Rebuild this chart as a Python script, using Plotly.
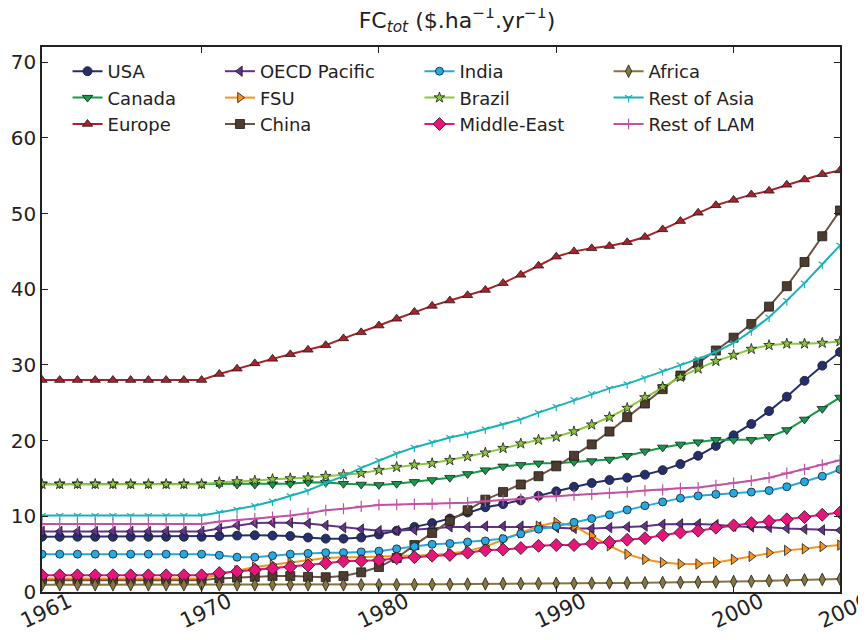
import plotly.graph_objects as go

years = list(range(1961, 2007))

usa = [7.3, 7.3, 7.3, 7.3, 7.3, 7.3, 7.3, 7.3, 7.3, 7.3,
       7.4, 7.45, 7.5, 7.45, 7.4, 7.2, 7.05, 7.05, 7.2, 7.6,
       8.1, 8.6, 9.1, 9.7, 10.5, 11.2, 11.6, 12.1, 12.7, 13.3,
       13.9, 14.4, 14.8, 15.1, 15.5, 16.1, 16.9, 18.0, 19.3, 20.7,
       22.2, 23.9, 25.8, 27.9, 29.9, 31.7]
canada = [14.25, 14.25, 14.25, 14.25, 14.25, 14.25, 14.25, 14.25, 14.25, 14.25,
          14.25, 14.2, 14.2, 14.25, 14.3, 14.5, 14.45, 14.3, 14.2, 14.15,
          14.3, 14.55, 14.8, 15.1, 15.6, 16.1, 16.6, 16.8, 17.0, 17.0,
          17.2, 17.3, 17.5, 18.0, 18.6, 19.1, 19.5, 19.8, 20.1, 20.1,
          20.1, 20.5, 21.4, 22.8, 24.2, 25.7]
europe = [28.0, 28.0, 28.0, 28.0, 28.0, 28.0, 28.0, 28.0, 28.0, 28.0,
          28.8, 29.5, 30.2, 30.8, 31.4, 32.0, 32.6, 33.5, 34.3, 35.2,
          36.1, 37.0, 37.8, 38.5, 39.2, 39.9, 40.8, 41.9, 43.1, 44.3,
          45.0, 45.4, 45.7, 46.2, 46.9, 47.9, 49.0, 50.1, 51.1, 51.8,
          52.5, 53.0, 53.8, 54.5, 55.2, 55.7]
oecd_pacific = [8.0, 8.0, 8.0, 8.0, 8.0, 8.0, 8.0, 8.0, 8.0, 8.0,
                8.4, 8.8, 9.1, 9.15, 9.15, 9.05, 8.8, 8.5, 8.3, 8.1,
                8.1, 8.2, 8.4, 8.6, 8.6, 8.7, 8.7, 8.7, 8.6, 8.5,
                8.4, 8.4, 8.5, 8.6, 8.7, 8.95, 9.0, 9.0, 8.9, 8.7,
                8.6, 8.55, 8.4, 8.3, 8.2, 8.15]
fsu = [1.8, 1.8, 1.8, 1.8, 1.8, 1.8, 1.8, 1.8, 1.8, 1.8,
       2.3, 2.8, 3.3, 3.6, 3.9, 4.2, 4.5, 4.6, 4.6, 4.7,
       4.75, 4.85, 4.9, 5.1, 5.4, 6.0, 6.9, 7.8, 8.7, 9.2,
       8.7, 7.4, 6.1, 5.0, 4.3, 3.9, 3.7, 3.7, 3.9, 4.3,
       4.7, 5.2, 5.5, 5.7, 6.0, 6.2]
china = [1.55, 1.55, 1.55, 1.55, 1.55, 1.55, 1.55, 1.55, 1.55, 1.55,
         1.8, 1.9, 2.0, 2.1, 2.1, 2.0, 1.95, 2.1, 2.6, 3.3,
         4.5, 6.2, 7.8, 9.4, 10.8, 12.2, 13.2, 14.2, 15.3, 16.6,
         18.0, 19.5, 21.2, 23.1, 24.9, 26.8, 28.6, 30.2, 31.9, 33.6,
         35.4, 37.7, 40.4, 43.6, 47.0, 50.4]
india = [5.0, 5.0, 5.0, 5.0, 5.0, 5.0, 5.0, 5.0, 5.0, 5.0,
         4.85, 4.6, 4.6, 4.8, 5.0, 5.1, 5.2, 5.2, 5.3, 5.4,
         5.7, 6.0, 6.3, 6.4, 6.6, 6.75, 7.05, 7.7, 8.3, 8.7,
         9.2, 9.7, 10.2, 10.85, 11.4, 11.9, 12.4, 12.7, 12.9, 13.05,
         13.2, 13.4, 13.9, 14.55, 15.3, 16.2]
brazil = [14.25, 14.25, 14.25, 14.25, 14.25, 14.25, 14.25, 14.25, 14.25, 14.25,
          14.5, 14.6, 14.7, 14.9, 15.0, 15.1, 15.3, 15.5, 15.7, 16.1,
          16.5, 16.8, 17.0, 17.4, 17.9, 18.4, 19.0, 19.6, 20.1, 20.5,
          21.2, 22.1, 23.1, 24.3, 25.7, 27.1, 28.4, 29.5, 30.5, 31.3,
          32.1, 32.6, 32.8, 32.8, 32.9, 33.1]
middle_east = [2.2, 2.2, 2.2, 2.2, 2.2, 2.2, 2.2, 2.2, 2.2, 2.2,
               2.5, 2.7, 2.9, 3.1, 3.3, 3.5, 3.8, 4.05, 4.1, 4.2,
               4.45, 4.6, 4.8, 4.9, 5.2, 5.5, 5.6, 5.8, 6.1, 6.2,
               6.2, 6.4, 6.6, 6.9, 7.1, 7.5, 7.85, 8.1, 8.5, 8.8,
               9.1, 9.35, 9.6, 9.9, 10.2, 10.5]
africa = [0.95, 0.95, 0.95, 0.95, 0.95, 0.95, 0.95, 0.95, 0.95, 0.95,
          0.95, 0.95, 0.95, 0.95, 0.95, 0.95, 0.95, 0.95, 0.95, 0.95,
          0.97, 0.98, 1.0, 1.02, 1.05, 1.08, 1.1, 1.1, 1.12, 1.15,
          1.15, 1.17, 1.2, 1.2, 1.22, 1.25, 1.27, 1.3, 1.33, 1.38,
          1.42, 1.48, 1.55, 1.6, 1.66, 1.72]
rest_of_asia = [10.1, 10.1, 10.1, 10.1, 10.1, 10.1, 10.1, 10.1, 10.1, 10.1,
                10.5, 10.9, 11.4, 12.0, 12.7, 13.4, 14.4, 15.3, 16.4, 17.4,
                18.3, 19.1, 19.8, 20.4, 20.9, 21.5, 22.1, 22.8, 23.7, 24.5,
                25.4, 26.2, 26.9, 27.5, 28.3, 29.2, 30.0, 30.8, 31.7, 32.9,
                34.5, 36.3, 38.5, 40.8, 43.3, 45.8]
rest_of_lam = [9.0, 9.0, 9.0, 9.0, 9.0, 9.0, 9.0, 9.0, 9.0, 9.0,
               9.3, 9.5, 9.7, 9.9, 10.1, 10.4, 10.8, 11.0, 11.3, 11.5,
               11.55, 11.6, 11.6, 11.7, 11.8, 12.0, 12.1, 12.3, 12.6, 12.65,
               12.8, 12.9, 13.05, 13.2, 13.4, 13.5, 13.7, 13.8, 14.1, 14.4,
               14.7, 15.1, 15.7, 16.2, 16.8, 17.4]

x_ticks = [1961, 1970, 1980, 1990, 2000, 2006]
y_ticks = [0, 10, 20, 30, 40, 50, 60, 70]

series = [
    ("USA", usa, "#262f6e", "#262f6e", "circle", 9, "legend"),
    ("Canada", canada, "#16994a", "#16994a", "triangle-down", 9, "legend"),
    ("Europe", europe, "#a8232b", "#a8232b", "triangle-up", 9, "legend"),
    ("OECD Pacific", oecd_pacific, "#62318c", "#62318c", "triangle-left", 9, "legend2"),
    ("FSU", fsu, "#f7941d", "#f7941d", "triangle-right", 9, "legend2"),
    ("China", china, "#6b5444", "#4e3c2e", "square", 9, "legend2"),
    ("India", india, "#26a9e0", "#26a9e0", "circle", 8, "legend3"),
    ("Brazil", brazil, "#8dc63f", "#8dc63f", "star", 8, "legend3"),
    ("Middle-East", middle_east, "#e5167a", "#e5167a", "diamond", 10, "legend3"),
    ("Africa", africa, "#86753e", "#86753e", "diamond-tall", 9, "legend4"),
    ("Rest of Asia", rest_of_asia, "#19b3b7", "#19b3b7", "y-down-open", 6, "legend4"),
    ("Rest of LAM", rest_of_lam, "#c452a4", "#c452a4", "cross-thin-open", 8, "legend4"),
]

fig = go.Figure()
for name, vals, lcol, mcol, sym, size, leg in series:
    openm = sym.endswith("open")
    fig.add_trace(go.Scatter(
        x=years, y=vals, name=name, mode="lines+markers",
        line=dict(color=lcol, width=2),
        marker=dict(symbol=sym, size=size, color=mcol,
                    line=dict(color=mcol if openm else "#1a1a1a", width=1.2 if openm else 0.8)),
        legend=leg,
    ))

# The page body adds an 8px offset, so the figure is sized to fit the window.
legend_common = dict(bgcolor="rgba(0,0,0,0)", font=dict(family="DejaVu Sans", size=18, color="#222"),
                     yanchor="top", y=0.989, xanchor="left", orientation="v", tracegroupgap=0)
fig.update_layout(
    width=850, height=624,
    margin=dict(l=34, r=18, t=39, b=40),
    paper_bgcolor="white", plot_bgcolor="white",
    font=dict(family="DejaVu Sans", color="#222"),
    title=dict(text="FC<sub><i>tot</i></sub> ($.ha<sup>−1</sup>.yr<sup>−1</sup>)",
               x=0.52, xref="paper", xanchor="center", y=0.981, yref="container", yanchor="middle",
               font=dict(size=22, family="DejaVu Sans", color="#222")),
    legend=dict(x=0.032, **legend_common),
    legend2=dict(x=0.223, **legend_common),
    legend3=dict(x=0.473, **legend_common),
    legend4=dict(x=0.710, **legend_common),
    xaxis=dict(range=[1961, 2006], tickvals=x_ticks, ticktext=[str(v) for v in x_ticks],
               tickangle=-25, ticks="inside", ticklen=6, tickcolor="#222",
               ticklabelshift=27, ticklabelstandoff=-12, ticklabeloverflow="allow",
               showline=True, linecolor="#222", linewidth=1.5, mirror="allticks",
               showgrid=False, zeroline=False, automargin=False,
               tickfont=dict(size=21, family="DejaVu Sans", color="#222")),
    yaxis=dict(range=[0, 72], tickvals=y_ticks, ticks="inside", ticklen=6, tickcolor="#222",
               showline=True, linecolor="#222", linewidth=1.5, mirror="allticks",
               showgrid=False, zeroline=False, automargin=False,
               tickfont=dict(size=20, family="DejaVu Sans", color="#222")),
)

fig.write_html("out.html")
